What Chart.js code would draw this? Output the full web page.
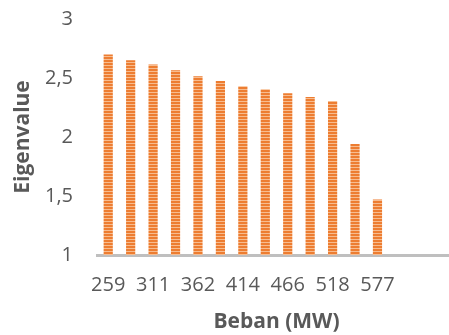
<!DOCTYPE html>
<html lang="en">
<head>
    <meta charset="UTF-8">
    <title>Eigenvalue vs Beban</title>
    <script src="https://cdn.jsdelivr.net/npm/chart.js"></script>
    <style>
        html, body { margin: 0; padding: 0; background: #fff; overflow: hidden; }
        #wrap { width: 456px; height: 335px; }
    </style>
</head>
<body>
    <div id="wrap">
        <canvas id="myChart" width="456" height="335"></canvas>
    </div>
    <script>
        // load labels (only every other one is printed on the axis), last three slots are empty
        const bebanLabels = ['259', '', '311', '', '362', '', '414', '', '466', '', '518', '', '577', '', '', ''];
        const eigenValues = [2.70, 2.65, 2.615, 2.565, 2.515, 2.475, 2.43, 2.405, 2.37, 2.34, 2.305, 1.94, 1.47, null, null, null];
        const yTicks = [1, 1.5, 2, 2.5, 3];

        const textColor = '#595959';

        // striped orange fill like the original
        function stripePattern(ctx) {
            const c = document.createElement('canvas');
            c.width = 4;
            c.height = 3;
            const p = c.getContext('2d');
            p.fillStyle = '#ED7D31';
            p.fillRect(0, 0, 4, 2);
            p.fillStyle = '#F7BC8F';
            p.fillRect(0, 2, 4, 1);
            return ctx.createPattern(c, 'repeat');
        }

        const ctx = document.getElementById('myChart').getContext('2d');
        const myChart = new Chart(ctx, {
            type: 'bar',
            data: {
                labels: bebanLabels,
                datasets: [{
                    label: 'Eigenvalue',
                    data: eigenValues,
                    backgroundColor: stripePattern(ctx),
                    borderWidth: 0,
                    barPercentage: 0.41,
                    categoryPercentage: 1.0,
                }],
            },
            options: {
                responsive: false,
                animation: false,
                layout: { padding: { top: 19, right: 0, bottom: 0, left: 0 } },
                plugins: {
                    legend: { display: false },
                    tooltip: { enabled: false },
                },
                scales: {
                    x: {
                        grid: { display: false, drawTicks: false },
                        border: { display: true, color: '#BFBFBF', width: 3 },
                        ticks: {
                            autoSkip: false,
                            maxRotation: 0,
                            padding: 18,
                            color: textColor,
                            font: { family: 'Open Sans', size: 20 },
                        },
                        title: {
                            display: true,
                            text: 'Beban (MW)',
                            color: textColor,
                            font: { family: 'Open Sans', size: 21, weight: 'bold' },
                            padding: { top: 0, bottom: 0 },
                        },
                        afterFit: scale => {
                            scale.height = 80;
                            scale.paddingLeft = 0;
                            scale.paddingRight = 0;
                        },
                    },
                    y: {
                        min: 1,
                        max: 3,
                        grid: { display: false, drawTicks: false },
                        border: { display: false },
                        afterBuildTicks: scale => {
                            scale.ticks = yTicks.map(v => ({ value: v }));
                        },
                        ticks: {
                            padding: 24,
                            color: textColor,
                            font: { family: 'Open Sans', size: 20 },
                            callback: v => String(v).replace('.', ','),
                        },
                        title: {
                            display: true,
                            text: 'Eigenvalue',
                            color: textColor,
                            font: { family: 'Open Sans', size: 21, weight: 'bold' },
                            padding: { top: 10, bottom: 0 },
                        },
                        afterFit: scale => {
                            scale.width = 97;
                            scale.paddingTop = 0;
                            scale.paddingBottom = 0;
                        },
                    },
                },
            },
        });
    </script>
</body>
</html>
